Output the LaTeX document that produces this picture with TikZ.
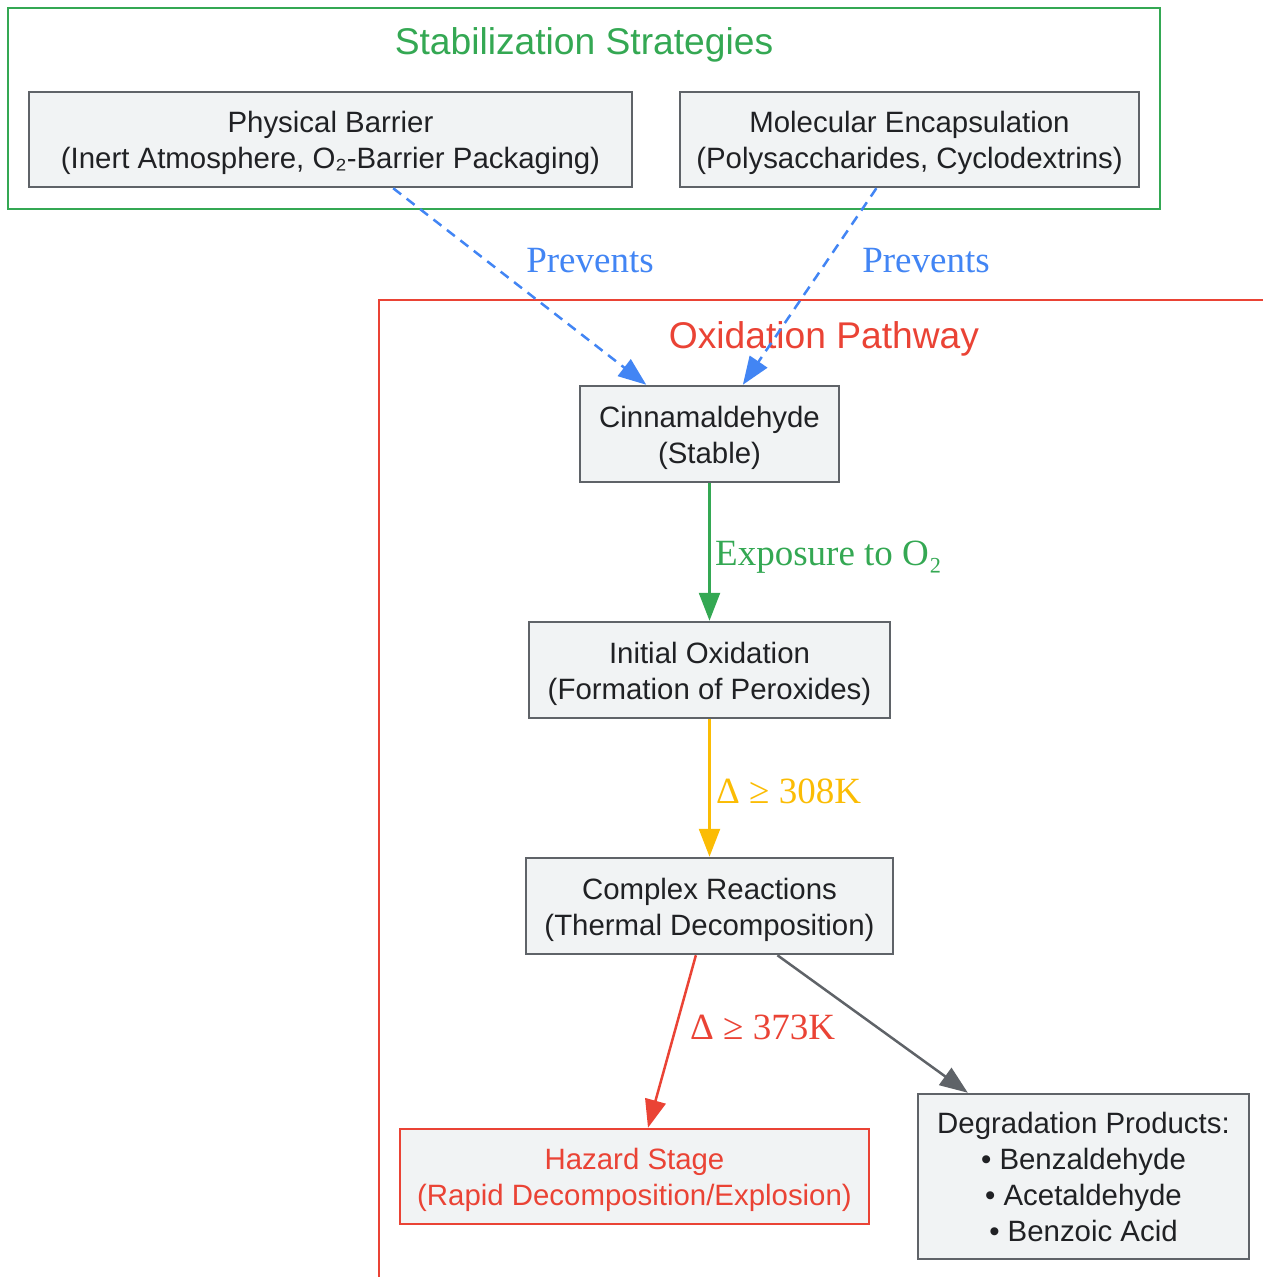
\documentclass[tikz,border=0pt]{standalone}
\usepackage{fontspec}
\setmainfont{Liberation Sans}
\newfontfamily\lblfont{Liberation Serif}
\usetikzlibrary{arrows.meta}
\definecolor{gGreen}{HTML}{34A853}
\definecolor{gBlue}{HTML}{4285F4}
\definecolor{gRed}{HTML}{EA4335}
\definecolor{gYellow}{HTML}{FBBC04}
\definecolor{gGray}{HTML}{5F6368}
\definecolor{gFill}{HTML}{F1F3F4}
\definecolor{gText}{HTML}{202124}
\newcommand{\fstrut}{\rule{0pt}{29pt}}
\newcommand{\gstrut}{\rule{0pt}{23pt}}
\tikzset{
  box/.style={draw=gGray, fill=gFill, line width=2.5pt, align=center, inner sep=0pt,
    text=gText, font=\fontsize{29.4}{36}\selectfont},
  hazbox/.style={box, draw=gRed, text=gRed},
  cluster/.style={line width=2.5pt},
  ctitle/.style={font=\fontsize{37.2}{44}\selectfont, inner sep=0pt},
  elabel/.style={font=\lblfont\fontsize{37}{40}\selectfont, inner sep=0pt},
  conn/.style={line width=2.5pt, -{Triangle[length=28pt,width=21pt]}},
}
\begin{document}
\begin{tikzpicture}[x=1pt,y=-1pt]
\useasboundingbox (0,0) rectangle (1263,1277);
% clusters
\draw[cluster, draw=gGreen] (8,8) rectangle (1160,209);
\node[ctitle, text=gGreen] (t1) at (584,45) {Stabilization Strategies};
\begin{scope}
\clip (0,0) rectangle (1263,1277);
\draw[cluster, draw=gRed] (379,1300) -- (379,300) -- (1300,300);
\end{scope}
\node[ctitle, text=gRed] (t2) at (824,339) {Oxidation Pathway};
% nodes
\node[box, minimum width=603pt, minimum height=95pt] (pb) at (330.5,139.5)
  {\fstrut Physical Barrier\\(Inert Atmosphere, O₂-Barrier Packaging)};
\node[box, minimum width=459pt, minimum height=95pt] (me) at (909.5,139.5)
  {\fstrut Molecular Encapsulation\\(Polysaccharides, Cyclodextrins)};
\node[box, minimum width=259pt, minimum height=96pt] (cin) at (709.5,434)
  {\fstrut Cinnamaldehyde\\(Stable)};
\node[box, minimum width=361pt, minimum height=96pt] (io) at (709.5,670)
  {\fstrut Initial Oxidation\\(Formation of Peroxides)};
\node[box, minimum width=367pt, minimum height=96pt] (cr) at (709.5,906)
  {\fstrut Complex Reactions\\(Thermal Decomposition)};
\node[hazbox, minimum width=469pt, minimum height=95pt] (hz) at (634.5,1176.5)
  {\fstrut Hazard Stage\\(Rapid Decomposition/Explosion)};
\node[box, minimum width=331pt, minimum height=165pt] (dp) at (1083.5,1176.5)
  {\gstrut Degradation Products:\\• Benzaldehyde\\• Acetaldehyde\\• Benzoic Acid};
% edges
\draw[conn, gBlue, dash pattern=on 10pt off 7pt] (pb) -- (cin);
\draw[conn, gBlue, dash pattern=on 10pt off 7pt] (me) -- (cin);
\draw[conn, gGreen] (cin) -- (io);
\draw[conn, gYellow] (io) -- (cr);
\draw[conn, gRed] (cr) -- (hz);
\draw[conn, gGray] (cr) -- (dp);
% edge labels
\node[elabel, text=gBlue] (l1) at (590,261) {Prevents};
\node[elabel, text=gBlue] (l2) at (926,261) {Prevents};
\node[elabel, text=gGreen, anchor=west] (l3) at (715,557) {Exposure to O₂};
\node[elabel, text=gYellow, anchor=west] (l4) at (716,791) {Δ ≥ 308K};
\node[elabel, text=gRed, anchor=west] (l5) at (690,1027) {Δ ≥ 373K};
\end{tikzpicture}
\end{document}
